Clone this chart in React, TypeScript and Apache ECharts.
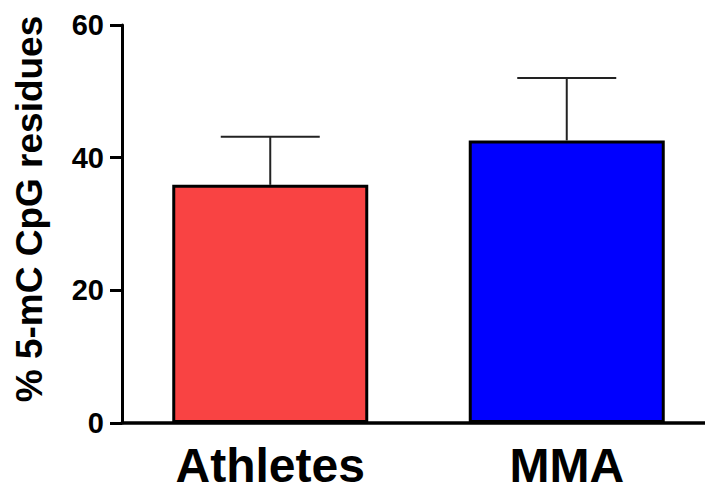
import React, { useEffect, useRef } from "react";
import * as echarts from "echarts";

const categories = ["Athletes", "MMA"];
const means = [35.9, 42.6];
const errors = [7.25, 9.4];
const barColors = ["#F94343", "#0000FF"];
const yTicks = [0, 20, 40, 60];
const yAxisTitle = "% 5-mC CpG residues";

const FONT = "'Liberation Sans', Arial, Helvetica, sans-serif";

export default function App() {
  const ref = useRef<HTMLDivElement>(null);
  useEffect(() => {
    document.body.style.margin = "0";
    const chart = echarts.init(ref.current!, undefined, { renderer: "svg" });
    const errData = means.map((m, i) => [i, m, m + errors[i]]);
    chart.setOption({
      animation: false,
      backgroundColor: "#ffffff",
      grid: { left: 122, right: 5, top: 25, bottom: 67, containLabel: false },
      xAxis: {
        type: "category",
        data: categories,
        axisLine: { show: true, lineStyle: { color: "#000", width: 3.5 } },
        axisTick: { show: false },
        axisLabel: {
          color: "#000",
          fontSize: 48,
          fontWeight: "bold",
          fontFamily: FONT,
          margin: 18,
        },
      },
      yAxis: {
        type: "value",
        min: yTicks[0],
        max: yTicks[yTicks.length - 1],
        interval: 20,
        axisLine: { show: true, lineStyle: { color: "#000", width: 3 } },
        axisTick: { show: true, length: 12, lineStyle: { color: "#000", width: 3 } },
        splitLine: { show: false },
        axisLabel: {
          color: "#000",
          fontSize: 29,
          fontWeight: "bold",
          fontFamily: FONT,
          margin: 18,
        },
      },
      graphic: [
        {
          type: "text",
          x: 29,
          y: 209,
          rotation: Math.PI / 2,
          style: {
            text: yAxisTitle,
            fontSize: 37,
            fontWeight: "bold",
            fontFamily: FONT,
            fill: "#000",
            textAlign: "center",
            textVerticalAlign: "middle",
          },
        },
      ],
      series: [
        {
          type: "bar",
          barWidth: 196,
          data: means.map((v, i) => ({
            value: v,
            itemStyle: { color: barColors[i], borderColor: "#000", borderWidth: 3 },
          })),
          z: 2,
        },
        {
          type: "custom",
          z: 3,
          data: errData,
          renderItem: (params: any, api: any) => {
            const x = api.value(0);
            const lo = api.coord([x, api.value(1)]);
            const hi = api.coord([x, api.value(2)]);
            const half = 49.5;
            const style = { stroke: "#222", lineWidth: 2 };
            return {
              type: "group",
              children: [
                { type: "line", shape: { x1: lo[0], y1: lo[1], x2: hi[0], y2: hi[1] }, style },
                { type: "line", shape: { x1: hi[0] - half, y1: hi[1], x2: hi[0] + half, y2: hi[1] }, style },
              ],
            };
          },
        },
      ],
    });
    return () => chart.dispose();
  }, []);
  return (
    <div style={{ width: 705, height: 490, position: "absolute", left: 0, top: 0, overflow: "hidden" }}>
      <div ref={ref} style={{ width: 720, height: 490 }} />
    </div>
  );
}
